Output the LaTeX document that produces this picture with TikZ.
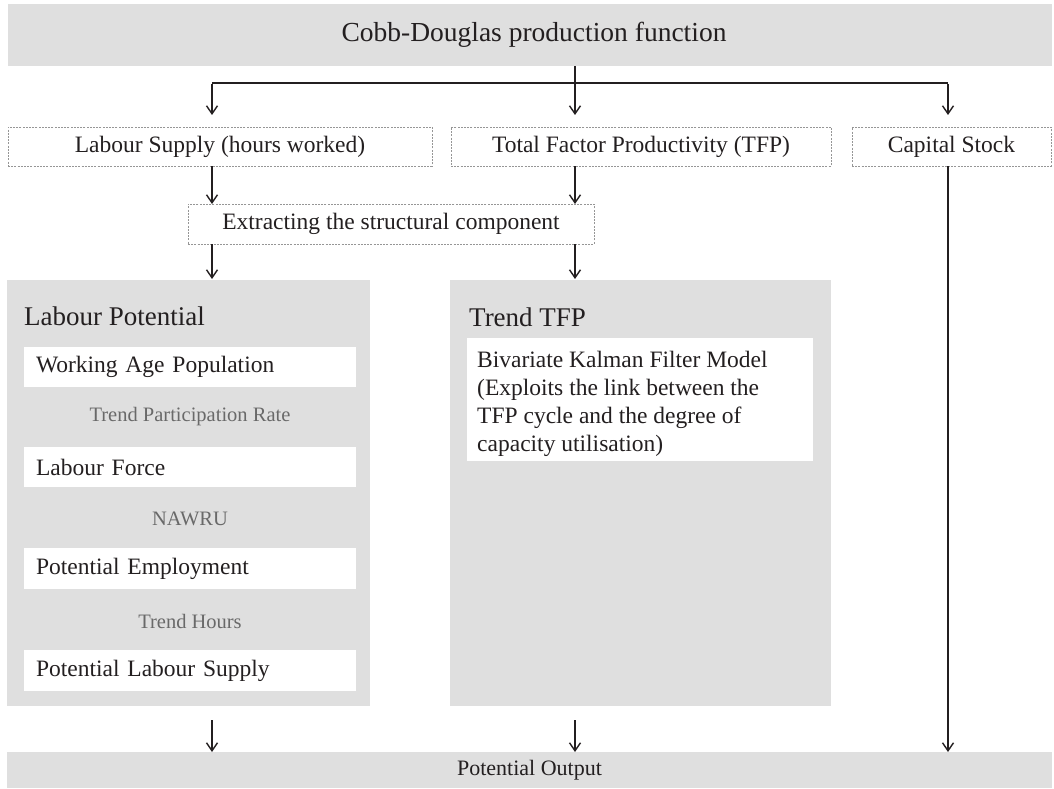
\documentclass[tikz,border=0pt]{standalone}
\usepackage{fontspec}
\setmainfont{Liberation Serif}
\usetikzlibrary{arrows.meta}
\definecolor{boxgray}{RGB}{223,223,223}
\definecolor{dashgray}{RGB}{150,150,150}
\definecolor{labelgray}{RGB}{105,105,105}
\definecolor{ink}{RGB}{35,31,32}
\newcommand\fsTop{\fontsize{27.5}{32}\selectfont}
\newcommand\fsHead{\fontsize{27}{31}\selectfont}
\newcommand\fsBody{\fontsize{23.5}{28}\selectfont}
\newcommand\fsSmall{\fontsize{20.5}{24}\selectfont}
\newcommand\fsOut{\fontsize{22}{26}\selectfont}
\tikzset{
  graybox/.style={fill=boxgray, inner sep=0pt, outer sep=0pt},
  dashbox/.style={draw=dashgray, dash pattern=on 2pt off 1.2pt, line width=0.8pt,
    inner sep=0pt, outer sep=0pt, minimum height=39pt, font=\fsBody, text=ink},
  whitebox/.style={fill=white, inner xsep=12pt, inner ysep=0pt, outer sep=0pt,
    minimum height=40pt, text width=308pt, align=left, font=\fsBody, text=ink},
  heading/.style={anchor=west, inner sep=0pt, font=\fsHead, text=ink},
  steplabel/.style={inner sep=0pt, font=\fsSmall, text=labelgray},
  arr/.style={draw=ink, line width=1.4pt, -{Straight Barb[length=8pt,width=11pt]}},
  bar/.style={draw=ink, line width=2.2pt},
}
\begin{document}
\begin{tikzpicture}[x=1pt,y=-1pt]
\useasboundingbox (0,0) rectangle (1054,789);

% top level: production function
\node[graybox, minimum width=1044pt, minimum height=62pt] (cd) at (530,35) {};
\node[inner sep=0pt, font=\fsTop, text=ink] (cdtext) at (534,35) {Cobb-Douglas production function};

% factors of production
\node[dashbox, minimum width=424pt] (ls) at (220,146.5) {Labour Supply (hours worked)};
\node[dashbox, minimum width=380pt] (tfp) at (641,146.5) {Total Factor Productivity (TFP)};
\node[dashbox, minimum width=199pt] (cap) at (951.5,146.5) {Capital Stock};

% filtering step
\node[dashbox, minimum width=406pt, minimum height=40pt] (ext) at (391,224) {Extracting the structural component};

% labour potential panel
\node[graybox, minimum width=363pt, minimum height=426pt] (lp) at (188.5,493) {};
\node[heading] (lphead) at (24,316) {Labour Potential};
\node[whitebox] (wap) at (190,367) {Working Age Population};
\node[steplabel] (tpr) at (190,417) {Trend Participation Rate};
\node[whitebox] (lf) at (190,467) {Labour Force};
\node[steplabel] (nawru) at (190,519) {NAWRU};
\node[whitebox, minimum height=41pt] (pe) at (190,568.5) {Potential Employment};
\node[steplabel] (th) at (190,621) {Trend Hours};
\node[whitebox, minimum height=41pt] (pls) at (190,670.5) {Potential Labour Supply};

% trend TFP panel
\node[graybox, minimum width=381pt, minimum height=426pt] (tt) at (640.5,493) {};
\node[heading] (tthead) at (469,317) {Trend TFP};
\node[fill=white, inner sep=0pt, outer sep=0pt, minimum width=346pt, minimum height=123pt] (kalbox) at (640,399.5) {};
\node[anchor=west, inner sep=0pt, align=left, font=\fsBody, text=ink] (kal) at (477,404)
  {Bivariate Kalman Filter Model\\(Exploits the link between the\\TFP cycle and the degree of\\capacity utilisation)};

% result
\node[graybox, minimum width=1045pt, minimum height=36pt, font=\fsOut, text=ink] (po) at (529.5,770) {Potential Output};

% connectors
\coordinate (hl) at (212,83);
\coordinate (hm) at (575,83);
\coordinate (hr) at (948,83);
\draw[bar] (hl) -- (hr);
\draw[arr, shorten >=12pt] (cd.south -| hm) -- (tfp.north -| hm);
\draw[arr, shorten >=12pt] ([yshift=-1.1pt]hl) -- (ls.north -| hl);
\draw[arr, shorten >=12pt] ([yshift=-1.1pt]hr) -- (cap.north -| hr);

\draw[arr] (ls.south -| hl) -- (ext.north -| hl);
\draw[arr] (tfp.south -| hm) -- (ext.north -| hm);
\draw[arr, shorten >=1pt] (ext.south -| hl) -- (lp.north -| hl);
\draw[arr, shorten >=1pt] (ext.south -| hm) -- (tt.north -| hm);

\coordinate (lpout) at (212,720);
\coordinate (ttout) at (575,720);
\draw[arr] (lpout) -- (po.north -| lpout);
\draw[arr] (ttout) -- (po.north -| ttout);
\draw[arr] (cap.south -| hr) -- (po.north -| hr);
\end{tikzpicture}
\end{document}
